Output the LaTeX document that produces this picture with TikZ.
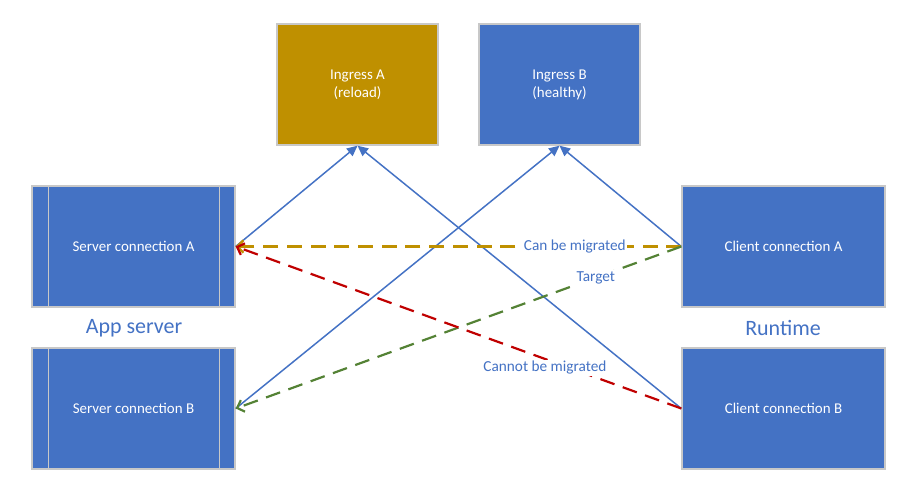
\documentclass[tikz,border=0pt]{standalone}
\usepackage{fontspec}
\setmainfont{Carlito}
\usetikzlibrary{arrows.meta}
\definecolor{boxblue}{HTML}{4472C4}
\definecolor{boxgold}{HTML}{BF9000}
\definecolor{boxgray}{HTML}{C8C8C8}
\definecolor{movegold}{HTML}{BF9000}
\definecolor{movegreen}{HTML}{548235}
\definecolor{movered}{HTML}{C00000}
\tikzset{
	conn/.style = {draw=boxgray, fill=boxblue, text=white, line width=0.8pt,
		minimum width=4.06cm, minimum height=2.42cm, inner sep=0pt,
		align=center, font=\fontsize{8.5}{10.3}\selectfont},
	ingress/.style = {conn, minimum width=3.22cm},
	side/.style = {text=boxblue, font=\fontsize{12.5}{15}\selectfont},
	link/.style = {boxblue, line width=0.85pt, -{Triangle[length=6pt,width=5.5pt]}},
	move/.style = {line width=1.25pt, dash pattern=on 8.5pt off 5pt,
		-{Straight Barb[length=3.5pt,width=7pt]}},
	tag/.style = {fill=white, text=boxblue, inner sep=1pt,
		font=\fontsize{8.7}{10}\selectfont}
}
\begin{document}
\begin{tikzpicture}[x=0.02cm, y=-0.02cm]
	\useasboundingbox (0,0) rectangle (919,498);
	% boxes
	\node [ingress, fill=boxgold] (ingA) at (357.5,84.5) {Ingress A\\(reload)};
	\node [ingress] (ingB) at (559.5,84.5) {Ingress B\\(healthy)};
	\node [conn] (srvA) at (133.5,246.5) {Server connection A};
	\node [conn] (srvB) at (133.5,408.5) {Server connection B};
	\node [conn] (cliA) at (783.5,246.5) {Client connection A};
	\node [conn] (cliB) at (783.5,408.5) {Client connection B};
	\foreach \n in {srvA,srvB}{
	\draw [boxgray, line width=0.8pt] ([xshift=0.34cm]\n.north west) -- ([xshift=0.34cm]\n.south west);
	\draw [boxgray, line width=0.8pt] ([xshift=-0.32cm]\n.north east) -- ([xshift=-0.32cm]\n.south east);
	}
	\node [side] (app) at (134,328) {App server};
	\node [side] (rt) at (783,328) {Runtime};
	% links to ingresses
	\draw [link] (srvA.east) -- (ingA.south);
	\draw [link] (cliB.west) -- (ingA.south);
	\draw [link] (srvB.east) -- (ingB.south);
	\draw [link] (cliA.west) -- (ingB.south);
	% migration
	\draw [move, movegold] (cliA.west) -- node [tag, pos=0.239] (canlbl) {Can be migrated} (srvA.east);
	\draw [move, movegreen] (cliA.west) -- node [tag, pos=0.192] (tgtlbl) {Target} (srvB.east);
	\draw [move, movered] (cliB.west) -- node [tag, pos=0.306, yshift=-0.18cm] (notlbl) {Cannot be migrated} (srvA.east);
\end{tikzpicture}
\end{document}
